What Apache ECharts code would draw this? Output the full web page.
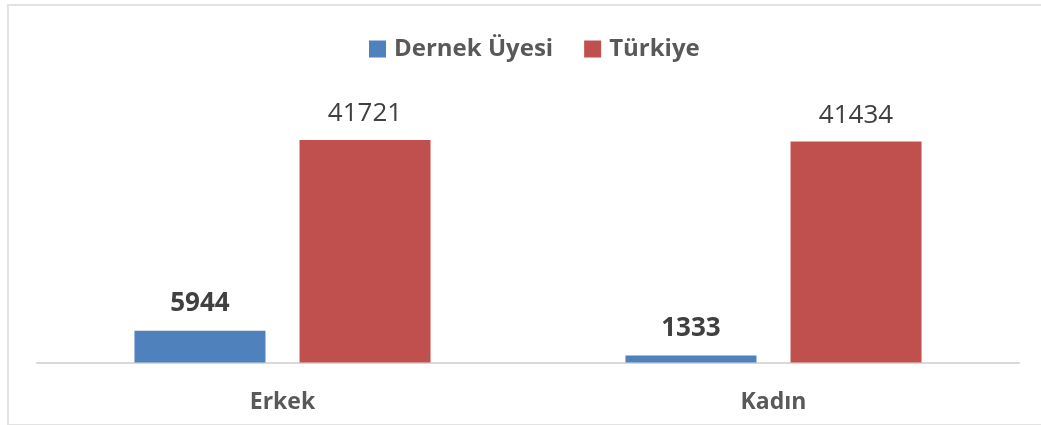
<!DOCTYPE html>
<html>
<head>
<meta charset="utf-8">
<script src="https://cdn.jsdelivr.net/npm/echarts@6/dist/echarts.min.js"></script>
<style>
  html, body { margin: 0; padding: 0; background: #fff; }
  #chart { width: 1041px; height: 425px; }
</style>
</head>
<body>
<div id="chart"></div>
<script>
const categories = ['Erkek', 'Kadın'];
const dernekUyesi = [5944, 1333];
const turkiye = [41721, 41434];

const myChart = echarts.init(document.getElementById('chart'));
const font = '"Open Sans", sans-serif';

const option = {
  animation: false,
  textStyle: { fontFamily: font },
  // chart frame (right side runs past the window)
  graphic: [{
    type: 'rect',
    shape: { x: 8, y: 5, width: 1100, height: 420 },
    style: { fill: 'none', stroke: '#E3E3E3', lineWidth: 2 },
    silent: true
  }],
  legend: {
    top: 32,
    left: 364,
    itemWidth: 17,
    itemHeight: 17,
    itemGap: 31,
    icon: 'rect',
    textStyle: { fontFamily: font, fontSize: 24, fontWeight: 'bold', color: '#595959', padding: [0, 0, 0, 3] },
    data: ['Dernek Üyesi', 'Türkiye']
  },
  grid: { left: 37, right: 22, top: 122.5, bottom: 62.5 },
  xAxis: {
    type: 'category',
    data: categories,
    axisTick: { show: false },
    axisLine: { lineStyle: { color: '#D9D9D9', width: 2 } },
    axisLabel: { fontFamily: font, fontSize: 23, fontWeight: 'bold', color: '#595959', margin: 28 }
  },
  yAxis: {
    type: 'value',
    min: 0,
    max: 45000,
    show: false,
    splitLine: { show: false }
  },
  series: [
    {
      name: 'Dernek Üyesi',
      type: 'bar',
      data: dernekUyesi,
      barWidth: 131,
      barGap: '26%',
      itemStyle: { color: '#4F81BD' },
      label: {
        show: true, position: 'top', distance: 14,
        fontFamily: font, fontSize: 26, fontWeight: 'bold', color: '#404040'
      }
    },
    {
      name: 'Türkiye',
      type: 'bar',
      data: turkiye,
      barWidth: 131,
      barGap: '26%',
      itemStyle: { color: '#C0504D' },
      label: {
        show: true, position: 'top', distance: 13,
        fontFamily: font, fontSize: 26, color: '#404040'
      }
    }
  ]
};

myChart.setOption(option);
</script>
</body>
</html>
